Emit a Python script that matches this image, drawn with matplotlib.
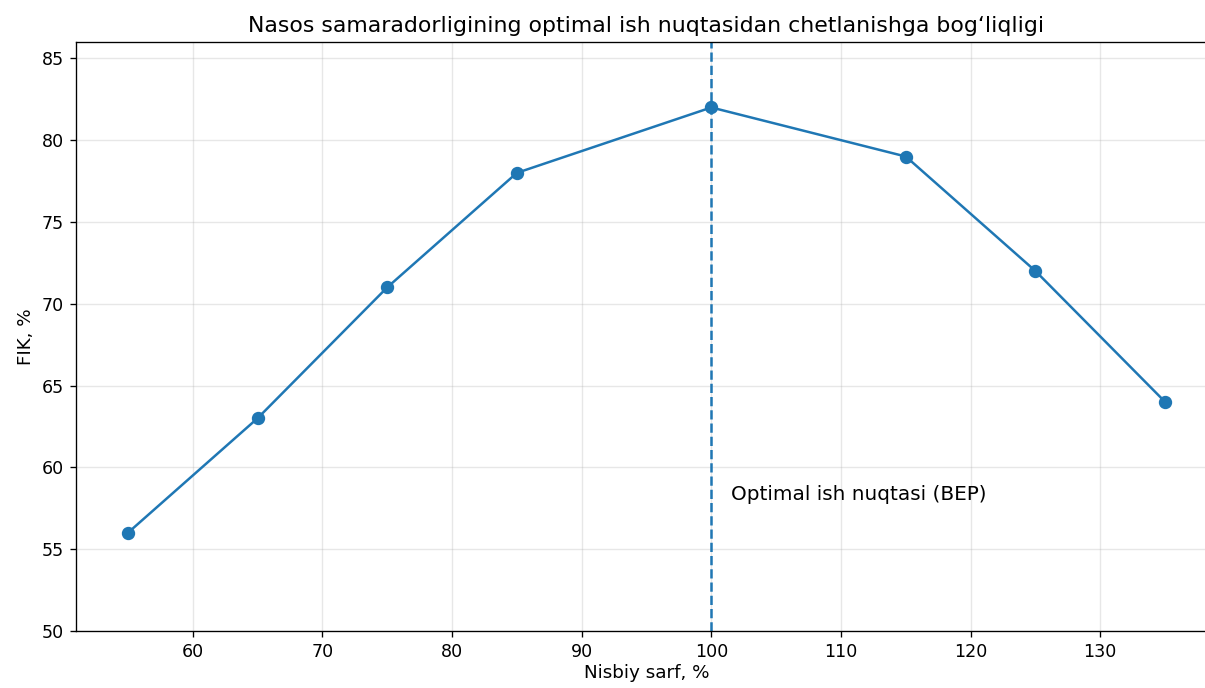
import matplotlib
matplotlib.use("Agg")
import matplotlib.pyplot as plt

# Relative flow (%) and pump efficiency (%)
flow = [55, 65, 75, 85, 100, 115, 125, 135]
efficiency = [56, 63, 71, 78, 82, 79, 72, 64]
bep_flow = 100

W, H = 1205, 688
fig = plt.figure(figsize=(W / 120, H / 120), dpi=120)
ax = fig.add_axes([76 / W, 57 / H, 1141 / W, 589 / H])

ax.plot(flow, efficiency, "o-", color="#1f77b4", markersize=7)
ax.axvline(bep_flow, color="#1f77b4", linestyle="--")
ax.text(101.5, 58, "Optimal ish nuqtasi (BEP)", fontsize=12)

ax.set_xlim(51, 139)
ax.set_ylim(50, 86)
ax.set_xticks(range(60, 131, 10))
ax.set_yticks(range(50, 86, 5))
ax.tick_params(labelsize=10.5)
ax.set_xlabel("Nisbiy sarf, %", fontsize=11, labelpad=2)
ax.set_ylabel("FIK, %", fontsize=11)
ax.set_title("Nasos samaradorligining optimal ish nuqtasidan chetlanishga bog\u2018liqligi",
             fontsize=13.2)
ax.grid(True, alpha=0.3)

fig.savefig("out.png", dpi=120)
